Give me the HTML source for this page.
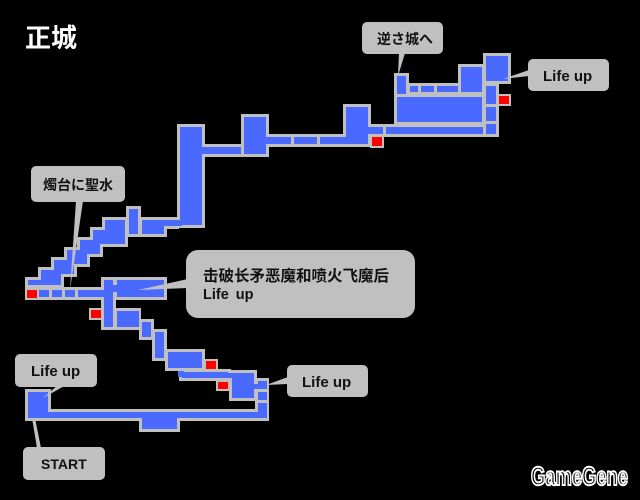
<!DOCTYPE html>
<html><head><meta charset="utf-8"><style>
html,body{margin:0;padding:0;background:#000;}
svg{display:block;}
.t{font-family:"Liberation Sans","Noto Sans CJK JP",sans-serif;font-weight:bold;}
</style></head><body>
<svg width="640" height="500" viewBox="0 0 640 500" xmlns="http://www.w3.org/2000/svg">
<rect width="640" height="500" fill="#000"/>
<text x="25" y="47" class="t" font-size="26" fill="#fff" style="font-family:'Liberation Sans','Noto Sans CJK JP',sans-serif">正城</text>

<g fill="#c0c0c0">
<rect x="177" y="124" width="28" height="104"/>
<rect x="203" y="144" width="40" height="13"/>
<rect x="241" y="114" width="28" height="43"/>
<rect x="267" y="134" width="78" height="13"/>
<rect x="343" y="104" width="28" height="43"/>
<rect x="369" y="124" width="130" height="13"/>
<rect x="370" y="135" width="14" height="13"/>
<rect x="394" y="94" width="91" height="31"/>
<rect x="394" y="73" width="15" height="22"/>
<rect x="407" y="83" width="53" height="12"/>
<rect x="458" y="64" width="27" height="31"/>
<rect x="483" y="53" width="28" height="31"/>
<rect x="483" y="83" width="16" height="54"/>
<rect x="497" y="94" width="14" height="12"/>
<rect x="126" y="206" width="15" height="31"/>
<rect x="139" y="217" width="28" height="20"/>
<rect x="165" y="217" width="14" height="12"/>
<polygon points="25,288 25,277 38,277 38,267 51,267 51,257 64,257 64,247 77,247 77,237 90,237 90,227 102,227 102,217 128,217 128,247 103,247 103,257 90,257 90,267 77,267 77,277 64,277 64,288"/>
<rect x="25" y="287" width="78" height="13"/>
<rect x="101" y="277" width="15" height="53"/>
<rect x="114" y="277" width="53" height="23"/>
<rect x="89" y="308" width="14" height="12"/>
<rect x="114" y="308" width="27" height="22"/>
<rect x="139" y="319" width="15" height="21"/>
<rect x="152" y="329" width="15" height="32"/>
<rect x="165" y="349" width="40" height="22"/>
<rect x="203" y="359" width="15" height="12"/>
<rect x="179" y="369" width="52" height="12"/>
<rect x="229" y="370" width="28" height="31"/>
<rect x="216" y="379" width="14" height="12"/>
<rect x="255" y="378" width="14" height="43"/>
<rect x="49" y="409" width="208" height="12"/>
<rect x="139" y="409" width="41" height="23"/>
<rect x="25" y="389" width="26" height="32"/>
</g>

<g fill="#4a6aff">
<rect x="180" y="127" width="22" height="98"/>
<rect x="205" y="147" width="36" height="7"/>
<rect x="244" y="117" width="22" height="37"/>
<rect x="269" y="137" width="22" height="7"/>
<rect x="294" y="137" width="23" height="7"/>
<rect x="320" y="137" width="23" height="7"/>
<rect x="346" y="107" width="22" height="37"/>
<rect x="371" y="127" width="12" height="7"/>
<rect x="386" y="127" width="97" height="7"/>
<rect x="397" y="97" width="85" height="25"/>
<rect x="397" y="76" width="9" height="18"/>
<rect x="410" y="86" width="8" height="6"/>
<rect x="421" y="86" width="13" height="6"/>
<rect x="437" y="86" width="21" height="6"/>
<rect x="461" y="67" width="21" height="25"/>
<rect x="486" y="56" width="22" height="25"/>
<rect x="486" y="86" width="10" height="18"/>
<rect x="486" y="107" width="10" height="14"/>
<rect x="486" y="124" width="10" height="10"/>
<rect x="129" y="209" width="9" height="25"/>
<rect x="142" y="220" width="22" height="14"/>
<rect x="167" y="220" width="10" height="6"/>
<polygon points="28,285 28,280 41,280 41,270 54,270 54,260 67,260 67,250 80,250 80,240 93,240 93,230 105,230 105,220 125,220 125,244 100,244 100,254 87,254 87,264 74,264 74,274 61,274 61,285"/>
<rect x="39" y="290" width="10" height="7"/>
<rect x="52" y="290" width="10" height="7"/>
<rect x="65" y="290" width="10" height="7"/>
<rect x="78" y="290" width="22" height="7"/>
<rect x="104" y="280" width="9" height="47"/>
<rect x="117" y="280" width="47" height="17"/>
<rect x="117" y="311" width="22" height="16"/>
<rect x="142" y="322" width="9" height="15"/>
<rect x="155" y="332" width="9" height="26"/>
<rect x="168" y="352" width="34" height="16"/>
<rect x="182" y="372" width="46" height="6"/>
<rect x="232" y="373" width="22" height="25"/>
<rect x="258" y="381" width="9" height="8"/>
<rect x="258" y="392" width="9" height="8"/>
<rect x="258" y="403" width="9" height="15"/>
<rect x="52" y="412" width="86" height="6"/>
<rect x="142" y="412" width="35" height="17"/>
<rect x="182" y="412" width="73" height="6"/>
<rect x="28" y="392" width="20" height="26"/>
<rect x="200" y="147" width="8" height="7"/>
<rect x="264" y="137" width="8" height="7"/>
<rect x="340" y="137" width="8" height="7"/>
<rect x="366" y="127" width="8" height="7"/>
<rect x="48" y="412" width="6" height="6"/>
<rect x="136" y="412" width="8" height="6"/>
<rect x="175" y="412" width="8" height="6"/>
<rect x="252" y="412" width="8" height="6"/>
<rect x="99" y="290" width="8" height="7"/>
<rect x="111" y="285" width="8" height="7"/>
<rect x="162" y="220" width="8" height="6"/>
<rect x="174" y="220" width="8" height="6"/>
<rect x="178" y="371" width="6" height="6"/>
<rect x="227" y="373" width="7" height="5"/>
<rect x="254" y="384" width="6" height="5"/>
</g>

<g fill="#ff0000">
<rect x="372" y="137" width="10" height="9"/>
<rect x="499" y="96" width="10" height="8"/>
<rect x="27" y="290" width="10" height="8"/>
<rect x="91" y="310" width="10" height="8"/>
<rect x="206" y="361" width="10" height="8"/>
<rect x="218" y="382" width="10" height="7"/>
</g>

<g fill="#c0c0c0">
<polygon points="399,53 405,53 398,76"/>
<rect x="362" y="22" width="81" height="32" rx="5"/>
<polygon points="529,70 529,76 503,79"/>
<rect x="528" y="59" width="81" height="32" rx="5"/>
<polygon points="76,201 83,201 70,290"/>
<rect x="31" y="166" width="94" height="36" rx="5"/>
<polygon points="188,279 188,288 138,290"/>
<rect x="186" y="250" width="229" height="68" rx="12"/>
<polygon points="288,377 288,384 266,385"/>
<rect x="287" y="365" width="81" height="32" rx="5"/>
<polygon points="58,385 66,385 43,398"/>
<rect x="15" y="354" width="82" height="33" rx="5"/>
<polygon points="32,418 35,418 41,448 37,448"/>
<rect x="23" y="447" width="82" height="33" rx="5"/>
</g>

<g class="t" fill="#111" style="font-family:'Liberation Sans','Noto Sans CJK JP',sans-serif;font-weight:bold">
<text x="377" y="44" font-size="14">逆さ城へ</text>
<text x="543" y="81" font-size="15">Life up</text>
<text x="43" y="190" font-size="14">燭台に聖水</text>
<text x="203" y="281" font-size="15.5" style="font-family:'Liberation Sans','Noto Sans CJK SC',sans-serif">击破长矛恶魔和喷火飞魔后</text>
<text x="203" y="299" font-size="14.5" word-spacing="3">Life up</text>
<text x="302" y="387" font-size="15">Life up</text>
<text x="31" y="376" font-size="15">Life up</text>
<text x="41" y="469" font-size="14">START</text>
</g>

<text x="531" y="485" font-size="26" font-weight="bold" fill="#000" stroke="#fff" stroke-width="2" textLength="97" lengthAdjust="spacingAndGlyphs" style="font-family:'Liberation Sans',sans-serif">GameGene</text>
</svg>
</body></html>
